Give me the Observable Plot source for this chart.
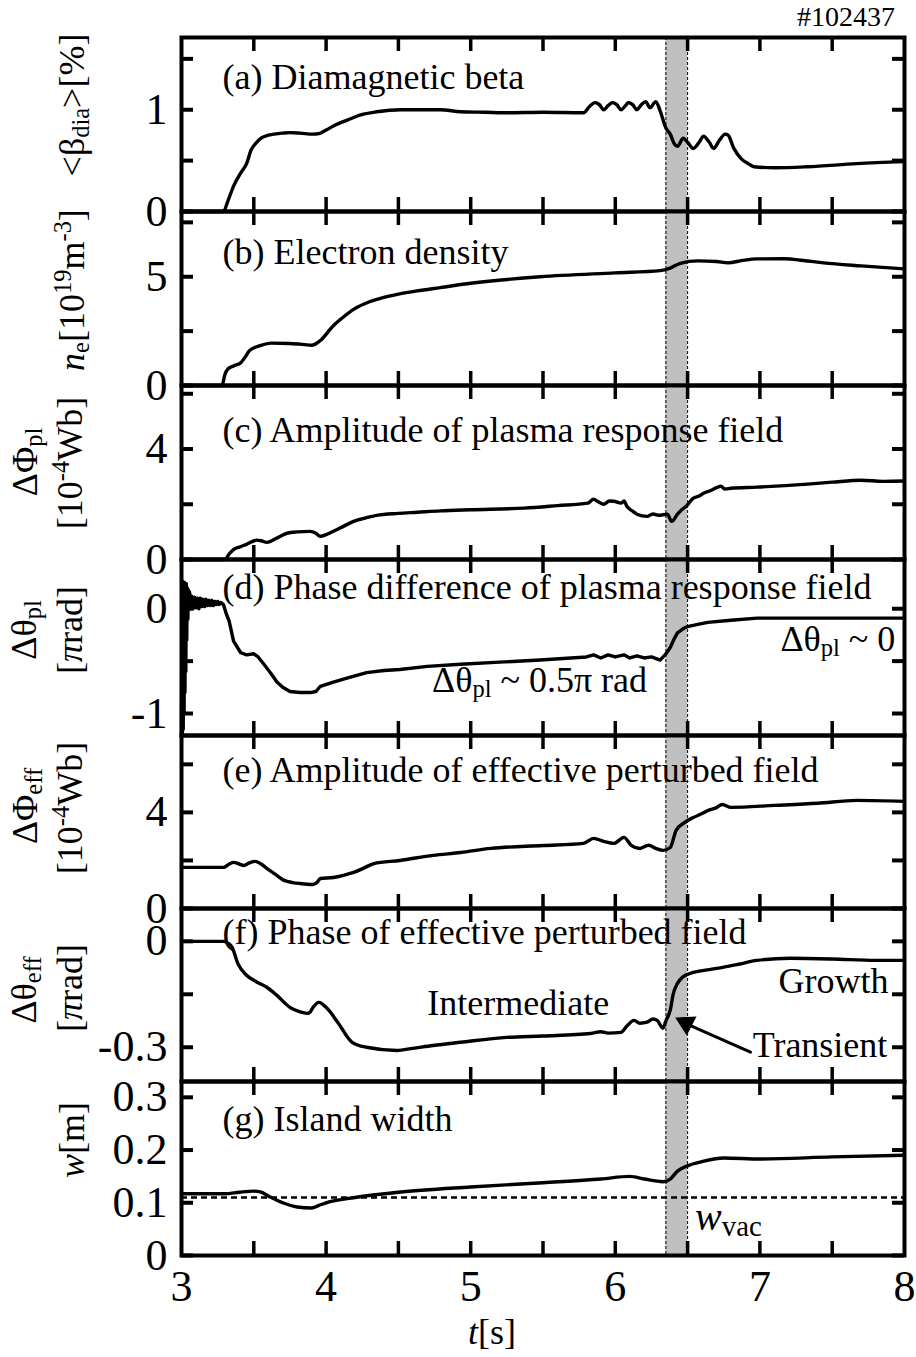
<!DOCTYPE html>
<html><head><meta charset="utf-8">
<script src="https://cdn.jsdelivr.net/npm/d3@7"></script>
<script src="https://cdn.jsdelivr.net/npm/@observablehq/plot@0.6"></script>
<style>
body{margin:0;background:#fff;}
#wrap{position:relative;width:916px;height:1357px;font-family:"Liberation Serif","Times New Roman",serif;background:#fff;overflow:hidden;}
#wrap svg{position:absolute;left:0;overflow:visible;}
#shot{position:absolute;right:21px;top:3px;font-size:28px;line-height:28px;color:#000;}
</style></head><body><div id="wrap"><div id="shot">#102437</div></div>
<script>
// ---------- data (time in s) ----------
const xTickValues = [3.5,4,4.5,5,5.5,6,6.5,7,7.5];
const xTickLabels = [3,4,5,6,7,8];
const bandT = [6.35, 6.5];
const wVac = 0.11;

const tA = [3.0,3.29,3.32,3.36,3.41,3.45,3.48,3.52,3.55,3.6,3.64,3.7,3.75,3.82,3.91,3.95,4.0,4.05,4.15,4.24,4.35,4.52,4.65,4.79,4.93,5.1,5.25,5.5,5.78,5.82,5.86,5.89,5.92,5.95,5.98,6.01,6.04,6.07,6.09,6.12,6.15,6.18,6.21,6.24,6.28,6.31,6.35,6.38,6.41,6.43,6.47,6.5,6.54,6.58,6.61,6.65,6.68,6.72,6.76,6.78,6.82,6.87,6.92,6.96,7.1,7.33,7.67,8.0];
const betaA = [0,0,0.1,0.25,0.38,0.47,0.6,0.68,0.72,0.75,0.76,0.77,0.775,0.77,0.76,0.765,0.8,0.84,0.9,0.95,0.98,1.0,1.0,1.0,0.98,0.975,0.97,0.975,0.97,1.03,1.07,1.05,1.0,1.04,1.07,1.05,1.0,1.04,1.07,1.05,1.0,1.05,1.08,1.02,1.08,0.99,0.82,0.76,0.66,0.64,0.72,0.68,0.62,0.68,0.74,0.68,0.62,0.7,0.76,0.75,0.62,0.52,0.47,0.44,0.43,0.44,0.47,0.49];

const tB = [3.0,3.28,3.3,3.32,3.36,3.41,3.44,3.47,3.52,3.55,3.62,3.75,3.85,3.9,3.96,4.05,4.12,4.19,4.3,4.4,4.5,4.63,4.79,5.0,5.48,6.0,6.31,6.38,6.45,6.57,6.7,6.78,6.88,6.98,7.17,7.3,7.44,7.7,8.0];
const densB = [0,0,0.5,0.75,0.9,1.05,1.3,1.6,1.78,1.85,1.95,1.93,1.88,1.85,2.07,2.75,3.15,3.5,3.85,4.05,4.2,4.35,4.5,4.7,5.0,5.18,5.28,5.4,5.62,5.73,5.7,5.64,5.75,5.82,5.83,5.75,5.64,5.5,5.36];

const tC = [3.0,3.3,3.33,3.36,3.4,3.45,3.52,3.55,3.59,3.65,3.73,3.8,3.89,3.93,3.96,4.0,4.05,4.12,4.19,4.27,4.35,4.5,4.63,4.79,5.0,5.37,5.6,5.81,5.85,5.88,5.92,5.96,5.99,6.04,6.06,6.08,6.12,6.15,6.22,6.26,6.3,6.36,6.39,6.43,6.46,6.49,6.54,6.58,6.61,6.66,6.7,6.73,6.76,6.8,6.98,7.33,7.5,7.7,7.85,8.0];
const phiPlC = [0,0,0.2,0.36,0.45,0.55,0.7,0.68,0.62,0.75,0.95,1.0,1.02,0.95,0.84,0.9,1.02,1.2,1.38,1.5,1.6,1.67,1.71,1.76,1.8,1.86,1.95,2.04,2.18,2.1,2.0,2.12,2.11,2.04,2.12,1.93,1.75,1.64,1.56,1.65,1.6,1.64,1.38,1.64,1.8,1.93,2.22,2.3,2.4,2.5,2.6,2.65,2.55,2.58,2.62,2.73,2.8,2.87,2.83,2.84];

const tD = [3.000,3.003,3.006,3.009,3.012,3.015,3.018,3.021,3.024,3.027,3.030,3.033,3.036,3.040,3.044,3.048,3.052,3.056,3.060,
  3.07,3.08,3.09,3.10,3.11,3.12,3.13,3.14,3.15,3.16,3.17,3.18,3.19,3.20,3.21,3.22,3.23,3.24,3.25,3.26,3.27,3.28,
  3.29,3.31,3.33,3.36,3.41,3.45,3.50,3.53,3.57,3.62,3.66,3.70,3.75,3.82,3.89,3.93,3.96,4.05,4.15,4.28,4.40,4.51,4.70,4.93,5.20,5.48,5.80,5.85,5.90,5.95,6.00,6.06,6.10,6.15,6.20,6.25,6.31,6.35,6.38,6.41,6.43,6.47,6.50,6.57,6.64,6.80,6.98,7.30,7.60,8.00];
const thetaPlD = [-1.2,0.2,-1.2,0.26,-1.15,0.24,-1.0,0.25,-0.8,0.22,-0.6,0.24,-0.3,0.2,-0.1,0.18,0.0,0.16,0.03,
  0.12,0.0,0.11,0.01,0.10,0.0,0.10,0.02,0.09,0.02,0.09,0.03,0.08,0.03,0.08,0.03,0.07,0.04,0.07,0.04,0.06,0.05,
  0.04,-0.05,-0.12,-0.31,-0.42,-0.44,-0.43,-0.46,-0.53,-0.62,-0.70,-0.75,-0.79,-0.80,-0.80,-0.79,-0.74,-0.70,-0.66,-0.61,-0.59,-0.58,-0.55,-0.53,-0.51,-0.49,-0.46,-0.44,-0.47,-0.44,-0.46,-0.44,-0.47,-0.45,-0.47,-0.46,-0.49,-0.43,-0.37,-0.28,-0.23,-0.19,-0.17,-0.15,-0.13,-0.11,-0.09,-0.09,-0.09,-0.09];

const tE = [3.0,3.29,3.33,3.36,3.4,3.43,3.47,3.51,3.55,3.59,3.65,3.71,3.77,3.82,3.91,3.94,3.96,4.05,4.12,4.19,4.26,4.33,4.51,4.74,4.93,5.14,5.5,5.78,5.85,5.92,5.99,6.06,6.11,6.17,6.23,6.28,6.33,6.38,6.42,6.47,6.54,6.6,6.64,6.7,6.74,6.8,7.1,7.4,7.67,8.0];
const phiEffE = [1.71,1.71,1.85,1.92,1.85,1.79,1.9,1.96,1.85,1.67,1.42,1.17,1.08,1.04,1.0,1.1,1.25,1.29,1.38,1.5,1.68,1.87,2.0,2.21,2.33,2.5,2.62,2.71,2.92,2.79,2.71,2.96,2.63,2.5,2.63,2.5,2.42,2.54,3.25,3.54,3.79,3.95,4.08,4.2,4.33,4.21,4.29,4.38,4.5,4.46];

const tF = [3.0,3.29,3.32,3.35,3.39,3.45,3.52,3.59,3.66,3.75,3.82,3.87,3.89,3.91,3.95,4.0,4.08,4.18,4.28,4.49,4.6,4.74,4.93,5.25,5.5,5.83,5.9,5.95,6.04,6.08,6.13,6.17,6.22,6.26,6.29,6.33,6.35,6.38,6.4,6.43,6.47,6.54,6.65,6.75,6.85,6.98,7.21,7.5,7.8,8.0];
const thetaEffF = [0,0,-0.005,-0.017,-0.063,-0.096,-0.115,-0.13,-0.153,-0.187,-0.2,-0.204,-0.2,-0.187,-0.173,-0.187,-0.229,-0.286,-0.3,-0.309,-0.303,-0.295,-0.286,-0.272,-0.268,-0.261,-0.256,-0.26,-0.258,-0.24,-0.224,-0.232,-0.229,-0.22,-0.224,-0.246,-0.225,-0.195,-0.15,-0.119,-0.1,-0.088,-0.08,-0.073,-0.065,-0.054,-0.048,-0.05,-0.054,-0.054];

const tG = [3.0,3.3,3.4,3.5,3.55,3.6,3.7,3.8,3.9,3.95,4.0,4.2,4.5,5.0,5.5,5.9,6.1,6.2,6.33,6.38,6.43,6.5,6.6,6.75,7.0,7.5,8.0];
const widthG = [0.117,0.117,0.12,0.122,0.12,0.113,0.1,0.092,0.09,0.095,0.1,0.11,0.12,0.13,0.138,0.145,0.15,0.145,0.14,0.145,0.16,0.17,0.178,0.185,0.183,0.187,0.19];

// ---------- layout ----------
const W = 916, ML = 181, MR = 12, PAD = 8, BOTTOM_EXTRA = 102;
const innerW = W - ML - MR;
const FONT = "Liberation Serif, Times New Roman, serif";
const zip = (t, v) => t.slice(0, Math.min(t.length, v.length)).map((d, i) => ({t: d, v: v[i]}));

const panels = [
  {id:"a", top:37,  bottom:211,  domain:[0,1.71],      ticks:[0,0.5,1,1.5],  labels:[0,1],  data:zip(tA,betaA),      title:"(a) Diamagnetic beta", tdy:51},
  {id:"b", top:211, bottom:385,  domain:[0,8],         ticks:[0,2.5,5,7.5],  labels:[0,5],  data:zip(tB,densB),      title:"(b) Electron density", tdy:52},
  {id:"c", top:385, bottom:559,  domain:[0,6.3],       ticks:[0,2,4,6],      labels:[0,4],  data:zip(tC,phiPlC),     title:"(c) Amplitude of plasma response field", tdy:56},
  {id:"d", top:559, bottom:735,  domain:[-1.21,0.47],  ticks:[-1,-0.5,0],    labels:[-1,0], data:zip(tD,thetaPlD),   title:"(d) Phase difference of plasma response field", tdy:39},
  {id:"e", top:735, bottom:908,  domain:[0,7.2],       ticks:[0,2,4,6],      labels:[0,4],  data:zip(tE,phiEffE),    title:"(e) Amplitude of effective perturbed field", tdy:46},
  {id:"f", top:908, bottom:1081, domain:[-0.397,0.093],ticks:[-0.3,-0.15,0], labels:[-0.3,0], data:zip(tF,thetaEffF), title:"(f) Phase of effective perturbed field", tdy:35},
  {id:"g", top:1081,bottom:1255, domain:[0,0.33],      ticks:[0,0.1,0.2,0.3],labels:[0,0.1,0.2,0.3], data:zip(tG,widthG), title:"(g) Island width", tdy:49}
];

const wrap = document.getElementById("wrap");
const plots = {};

panels.forEach((p, i) => {
  const H = p.bottom - p.top;
  const last = i === panels.length - 1;
  const mb = last ? BOTTOM_EXTRA : PAD;
  const marks = [
    Plot.rect([{x1: bandT[0], x2: bandT[1]}], {x1: "x1", x2: "x2", fill: "#c0c0c0"}),
  ];
  if (p.id === "g") marks.push(Plot.ruleY([wVac], {stroke: "black", strokeWidth: 2.5, strokeDasharray: "6,4"}));
  marks.push(
    Plot.line(p.data, {x: "t", y: "v", stroke: "black", strokeWidth: 3.4, strokeLinejoin: "round", strokeLinecap: "round", curve: p.id === "d" ? "linear" : "monotone-x"}),
    Plot.text([p.title], {text: d => d, frameAnchor: "top-left", dx: 41, dy: p.tdy, lineAnchor: "bottom", textAnchor: "start", fontSize: 36, fill: "black"}),
    Plot.ruleX(bandT, {stroke: "black", strokeWidth: 1, strokeDasharray: "3,2"}),
    Plot.frame({stroke: "black", strokeWidth: 4}),
    Plot.tickX(xTickValues, {x: d => d, insetBottom: H - 14, stroke: "black", strokeWidth: 3.5}),
    Plot.tickX(xTickValues, {x: d => d, insetTop: H - 14, stroke: "black", strokeWidth: 3.5}),
    Plot.tickY(p.ticks, {y: d => d, insetRight: innerW - 12, stroke: "black", strokeWidth: 4}),
    Plot.tickY(p.ticks, {y: d => d, insetLeft: innerW - 12, stroke: "black", strokeWidth: 4}),
    Plot.axisY({ticks: p.labels, tickSize: 0, tickPadding: 14, fontSize: 44, tickFormat: d => String(d), label: null})
  );
  if (p.id === "f") {
    marks.push(
      Plot.text(["Intermediate"], {text: d => d, x: 4.70, y: -0.21, textAnchor: "start", lineAnchor: "bottom", fontSize: 36}),
      Plot.text(["Growth"], {text: d => d, x: 7.89, y: -0.147, textAnchor: "end", lineAnchor: "bottom", fontSize: 36}),
      Plot.text(["Transient"], {text: d => d, x: 6.95, y: -0.329, textAnchor: "start", lineAnchor: "bottom", fontSize: 36}),
      Plot.arrow([{x1: 6.935, y1: -0.314, x2: 6.50, y2: -0.235}], {x1: "x1", y1: "y1", x2: "x2", y2: "y2", stroke: "black", strokeWidth: 3, headLength: 0}),
      Plot.dot([{x: 6.49, y: -0.232}], {x: "x", y: "y", symbol: "triangle", r: 7, fill: "black", stroke: "black", rotate: -63})
    );
  }
  if (last) {
    marks.push(Plot.axisX({ticks: xTickLabels, tickSize: 0, tickPadding: 14, fontSize: 44, tickFormat: d => String(d), label: null}));
  }
  const svg = Plot.plot({
    width: W, height: H + PAD + mb,
    marginLeft: ML, marginRight: MR, marginTop: PAD, marginBottom: mb,
    style: {background: "transparent", overflow: "visible", fontFamily: FONT, color: "black"},
    x: {domain: [3, 8], ...(last ? {} : {axis: null})},
    y: {domain: p.domain},
    marks
  });
  svg.style.top = (p.top - PAD) + "px";
  wrap.appendChild(svg);
  plots[p.id] = {svg, p};
});

// ---------- rich text overlay (sub/superscripts) ----------
const overlay = d3.create("svg").attr("width", W).attr("height", 1357)
  .style("position", "absolute").style("left", "0px").style("top", "0px").style("overflow", "visible")
  .attr("font-family", FONT);
wrap.appendChild(overlay.node());

function rich(parts, {x, y, fs = 36, rotate = false, anchor = "middle", subScale = 0.68}) {
  const t = overlay.append("text").attr("font-size", fs).attr("text-anchor", anchor).attr("fill", "black");
  if (rotate) t.attr("transform", `translate(${x},${y}) rotate(-90)`);
  else t.attr("x", x).attr("y", y);
  let shift = 0;
  for (const [s, k] of parts) {
    const sub = k.includes("sub"), sup = k.includes("sup");
    const target = sub ? 0.14 * fs : sup ? -0.36 * fs : 0;
    const sp = t.append("tspan").text(s).attr("dy", target - shift).attr("font-size", (sub || sup) ? fs * subScale : fs);
    if (k.includes("i")) sp.attr("font-style", "italic");
    shift = target;
  }
  return t;
}
function pos(id, tx, v) {
  const {svg, p} = plots[id];
  const sx = svg.scale("x"), sy = svg.scale("y");
  const fx = sx.apply ? sx.apply(tx) : d3.scaleLinear(sx.domain, sx.range)(tx);
  const fy = sy.apply ? sy.apply(v) : d3.scaleLinear(sy.domain, sy.range)(v);
  return [fx, fy + p.top - PAD];
}

// y-axis labels (x = baseline position after rotation)
rich([["<β",""],["dia","sub"],[">[%]",""]], {x: 84, y: 105, rotate: true});
rich([["n","i"],["e","sub"],["[10",""],["19","sup"],["m",""],["-3","sup"],["]",""]], {x: 84, y: 290, rotate: true});
rich([["ΔΦ",""],["pl","sub"]], {x: 37, y: 462, rotate: true});
rich([["[10",""],["-4","sup"],["Wb]",""]], {x: 82, y: 463, rotate: true});
rich([["Δθ",""],["pl","sub"]], {x: 36, y: 630, rotate: true});
rich([["[",""],["π","i"],["rad]",""]], {x: 82, y: 630, rotate: true});
rich([["ΔΦ",""],["eff","sub"]], {x: 37, y: 806, rotate: true});
rich([["[10",""],["-4","sup"],["Wb]",""]], {x: 82, y: 808, rotate: true});
rich([["Δθ",""],["eff","sub"]], {x: 36, y: 990, rotate: true});
rich([["[",""],["π","i"],["rad]",""]], {x: 82, y: 988, rotate: true});
rich([["w","i"],["[m]",""]], {x: 84, y: 1140, rotate: true});

// x-axis label
rich([["t","i"],["[s]",""]], {x: 492, y: 1344, anchor: "middle"});

// annotations in data coordinates
{
  const [x1, y1] = pos("d", 4.736, -0.80);
  rich([["Δθ",""],["pl","sub"],[" ~ 0.5π rad",""]], {x: x1, y: y1, anchor: "start"});
  const [x2, y2] = pos("d", 7.94, -0.41);
  rich([["Δθ",""],["pl","sub"],[" ~ 0",""]], {x: x2, y: y2, anchor: "end"});
  const [x3, y3] = pos("g", 6.5, 0.047);
  rich([["w","i"],["vac","sub"]], {x: x3 + 8, y: y3, anchor: "start", fs: 40, subScale: 0.72});
}
</script></body></html>
